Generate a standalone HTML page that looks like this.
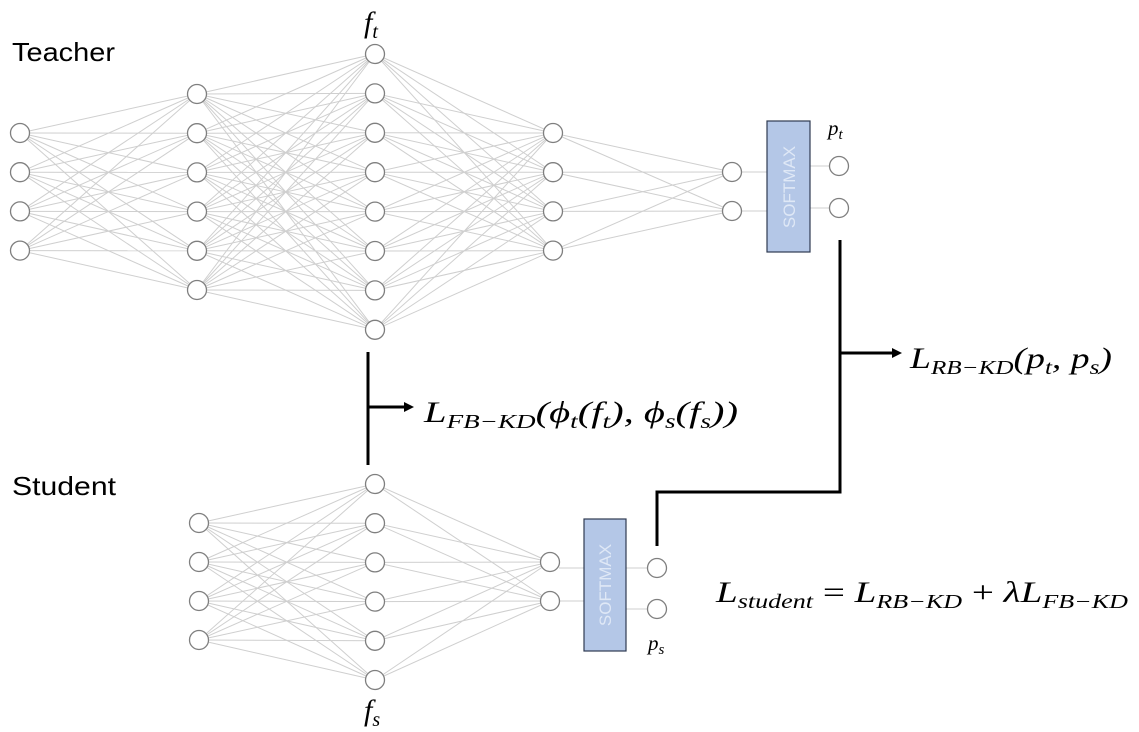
<!DOCTYPE html>
<html><head><meta charset="utf-8"><style>
html,body{margin:0;padding:0;background:#fff;}
svg{display:block;}
.m{font-family:"Liberation Serif",serif;font-style:italic;}
</style></head><body>
<svg id="s" width="1139" height="732" viewBox="0 0 1139 732" xmlns="http://www.w3.org/2000/svg">
<g id="lines" stroke="#cfcfcf" stroke-width="1"></g>
<g id="nodes" fill="#fff" stroke="#7f7f7f" stroke-width="1.3"></g>
<rect x="767" y="121" width="43" height="131" fill="#b4c7e7" stroke="#2f3b52" stroke-width="1.2"/>
<text x="0" y="0" transform="translate(795,187) rotate(-90)" text-anchor="middle" font-family="Liberation Sans,sans-serif" font-size="17" fill="#dfe8f6">SOFTMAX</text>
<rect x="584" y="519" width="42" height="132" fill="#b4c7e7" stroke="#2f3b52" stroke-width="1.2"/>
<text x="0" y="0" transform="translate(611,585) rotate(-90)" text-anchor="middle" font-family="Liberation Sans,sans-serif" font-size="17" fill="#dfe8f6">SOFTMAX</text>
<text x="12" y="61" font-family="Liberation Sans,sans-serif" font-size="26" fill="#000" textLength="103" lengthAdjust="spacingAndGlyphs">Teacher</text>
<text x="12" y="495" font-family="Liberation Sans,sans-serif" font-size="26" fill="#000" textLength="104" lengthAdjust="spacingAndGlyphs">Student</text>
<text x="364" y="32" class="m" font-size="30">f<tspan font-size="20" dy="6">t</tspan></text>
<text x="364" y="720" class="m" font-size="30">f<tspan font-size="20" dy="6">s</tspan></text>
<text x="828" y="135" class="m" font-size="21">p<tspan font-size="15" dy="4">t</tspan></text>
<text x="648" y="650" class="m" font-size="21">p<tspan font-size="15" dy="4">s</tspan></text>
<g stroke="#000" stroke-width="3" fill="none">
<line x1="368" y1="352" x2="368" y2="465"/>
<line x1="368" y1="407" x2="406" y2="407"/>
<polyline points="840,240 840,492 657,492 657,546"/>
<line x1="840" y1="353" x2="894" y2="353"/>
</g>
<polygon points="414,407 404,402 404,412" fill="#000"/>
<polygon points="902,353 892,348 892,358" fill="#000"/>
<text x="424" y="422" class="m" font-size="30" textLength="314" lengthAdjust="spacingAndGlyphs">L<tspan font-size="20" dy="6">FB−KD</tspan><tspan dy="-6">(ϕ</tspan><tspan font-size="20" dy="6">t</tspan><tspan dy="-6">(f</tspan><tspan font-size="20" dy="6">t</tspan><tspan dy="-6">), ϕ</tspan><tspan font-size="20" dy="6">s</tspan><tspan dy="-6">(f</tspan><tspan font-size="20" dy="6">s</tspan><tspan dy="-6">))</tspan></text>
<text x="910" y="368" class="m" font-size="30" textLength="202" lengthAdjust="spacingAndGlyphs">L<tspan font-size="20" dy="6">RB−KD</tspan><tspan dy="-6">(p</tspan><tspan font-size="20" dy="6">t</tspan><tspan dy="-6">, p</tspan><tspan font-size="20" dy="6">s</tspan><tspan dy="-6">)</tspan></text>
<text x="716" y="602" class="m" font-size="30" textLength="412" lengthAdjust="spacingAndGlyphs">L<tspan font-size="20" dy="6">student</tspan><tspan dy="-6" font-style="normal"> = </tspan><tspan>L</tspan><tspan font-size="20" dy="6">RB−KD</tspan><tspan dy="-6" font-style="normal"> + </tspan><tspan>λL</tspan><tspan font-size="20" dy="6">FB−KD</tspan></text>
</svg>
<script>
var NS="http://www.w3.org/2000/svg";
var L=document.getElementById("lines"),N=document.getElementById("nodes");
function ys(a,n,d){var r=[];for(var i=0;i<n;i++)r.push(a+i*d);return r;}
var T=[[20,ys(133,4,39.2)],[197,ys(94,6,39.2)],[375,ys(54,8,39.4)],[553,ys(133,4,39.2)],[732,[172,211]]];
var S=[[199,ys(523,4,39)],[375,ys(484,6,39.2)],[550,[562,601]]];
function ln(a,b,c,d){var e=document.createElementNS(NS,"line");e.setAttribute("x1",a);e.setAttribute("y1",b);e.setAttribute("x2",c);e.setAttribute("y2",d);L.appendChild(e);}
function net(A){for(var k=0;k<A.length-1;k++)A[k][1].forEach(function(y1){A[k+1][1].forEach(function(y2){ln(A[k][0],y1,A[k+1][0],y2);});});
A.forEach(function(l){l[1].forEach(function(y){var c=document.createElementNS(NS,"circle");c.setAttribute("cx",l[0]);c.setAttribute("cy",y);c.setAttribute("r",9.5);N.appendChild(c);});});}
net(T);net(S);
ln(741,172,767,172);ln(741,211,767,211);ln(810,166,830,166);ln(810,208,830,208);
ln(559,568,584,568);ln(559,601,584,601);ln(626,568,648,568);ln(626,609,648,609);
[[839,166],[839,208],[657,568],[657,609]].forEach(function(p){var c=document.createElementNS(NS,"circle");c.setAttribute("cx",p[0]);c.setAttribute("cy",p[1]);c.setAttribute("r",9.5);N.appendChild(c);});
</script>
</body></html>
